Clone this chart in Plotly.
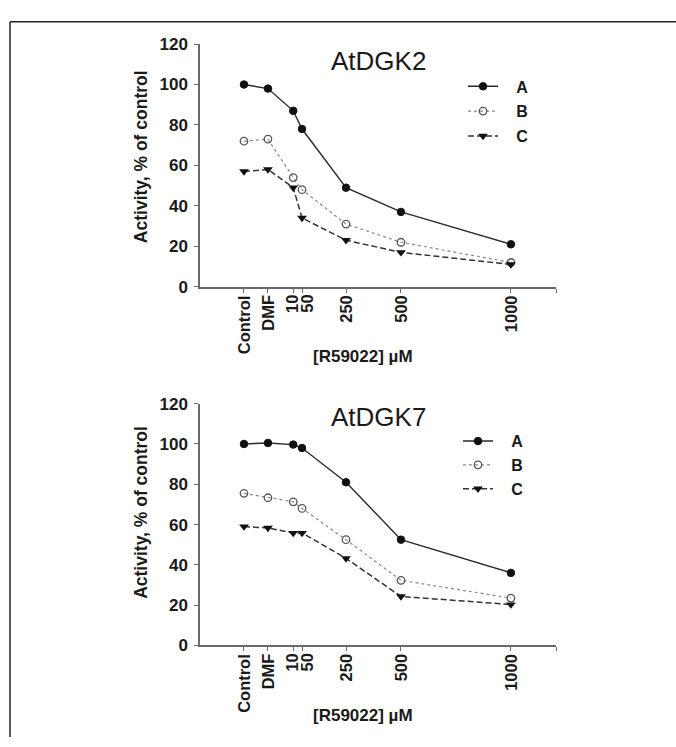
import plotly.graph_objects as go

W, H = 676, 747

# Concentration axis: the two controls sit left of the numeric doses
tick_labels = ["Control", "DMF", "10", "50", "250", "500", "1000"]
dose_pos = [-214, -105, 10, 50, 250, 500, 1000]
label_nudge = [0, 0, -1, 5, 0, 0, 0]  # keeps the crowded 10/50 labels apart
x_range = [-414, 1205]

series_names = ["A", "B", "C"]

# AtDGK2 activity, % of control
dgk2_a = [100, 98, 87, 78, 49, 37, 21]
dgk2_b = [72, 73, 54, 48, 31, 22, 12]
dgk2_c = [57, 58, 49, 34, 23, 17, 11]

# AtDGK7 activity, % of control
dgk7_a = [100, 100.5, 99.7, 98, 81, 52.5, 36]
dgk7_b = [75.5, 73.3, 71.3, 68, 52.5, 32.3, 23.5]
dgk7_c = [59, 58.3, 55.8, 55.8, 43.2, 24.3, 20.3]

y_ticks = [0, 20, 40, 60, 80, 100, 120]

FONT = "Liberation Sans, Arial, sans-serif"
INK = "#1a1a1a"
AXIS = "#6a6a6a"

styles = [
    dict(line=dict(color="#2a2a2a", width=1.4, dash="solid"),
         marker=dict(symbol="circle", size=7.5, color="#111111",
                     line=dict(color="#111111", width=1))),
    dict(line=dict(color="#8a8a8a", width=1.2, dash="dot"),
         marker=dict(symbol="circle-open", size=7.5, color="#555555",
                     line=dict(color="#555555", width=1.3))),
    dict(line=dict(color="#333333", width=1.5, dash="6px,3px"),
         marker=dict(symbol="triangle-down", size=8.5, color="#111111",
                     line=dict(color="#111111", width=0))),
]


def px_x(p):
    return p / W


def px_y(p):
    return 1 - p / H


fig = go.Figure()

panels = [
    dict(vals=[dgk2_a, dgk2_b, dgk2_c], xa="x", ya="y", legend="legend"),
    dict(vals=[dgk7_a, dgk7_b, dgk7_c], xa="x2", ya="y2", legend="legend2"),
]

for pi, panel in enumerate(panels):
    for si, (name, vals) in enumerate(zip(series_names, panel["vals"])):
        fig.add_trace(go.Scatter(
            x=dose_pos, y=vals, name="\u00a0\u00a0\u00a0" + name,
            mode="lines+markers",
            xaxis=panel["xa"], yaxis=panel["ya"],
            legend=panel["legend"],
            legendgroup=f"p{pi}s{si}",
            line=styles[si]["line"], marker=styles[si]["marker"],
            hoverinfo="skip",
        ))

axis_common = dict(
    showline=True, linecolor=AXIS, linewidth=1.5,
    ticks="outside", tickcolor=AXIS, ticklen=4, tickwidth=1.2,
    showgrid=False, zeroline=False, mirror=False,
    tickfont=dict(family=FONT, size=17, color=INK, weight="bold"),
)

xaxis_cfg = dict(
    axis_common, range=x_range,
    tickmode="array", tickvals=dose_pos + [x_range[1]],
    showticklabels=False,
)
yaxis_cfg = dict(
    axis_common, range=[0, 120], tickmode="array", tickvals=y_ticks,
    ticklabelstandoff=3,
)

x_dom = [px_x(200), px_x(556)]
fig.update_layout(
    width=W, height=H, autosize=False,
    margin=dict(l=0, r=0, t=0, b=0),
    paper_bgcolor="white", plot_bgcolor="white",
    showlegend=True,
    xaxis=dict(xaxis_cfg, domain=x_dom, anchor="y"),
    yaxis=dict(yaxis_cfg, domain=[px_y(285), px_y(36)], anchor="x"),
    xaxis2=dict(xaxis_cfg, domain=x_dom, anchor="y2"),
    yaxis2=dict(yaxis_cfg, domain=[px_y(653), px_y(405)], anchor="x2"),
    legend=dict(x=px_x(463), y=px_y(62), xanchor="left", yanchor="top",
                bgcolor="rgba(0,0,0,0)", tracegroupgap=1,
                font=dict(family=FONT, size=16, color=INK, weight="bold")),
    legend2=dict(x=px_x(458), y=px_y(426), xanchor="left", yanchor="top",
                 bgcolor="rgba(0,0,0,0)", tracegroupgap=0,
                 font=dict(family=FONT, size=16, color=INK, weight="bold")),
)

# Rotated dose labels under each x axis
for xa, ya in (("x", "y"), ("x2", "y2")):
    for lab, pos, dx in zip(tick_labels, dose_pos, label_nudge):
        fig.add_annotation(
            text=lab, x=pos, y=0, xref=xa, yref=ya,
            xanchor="center", yanchor="top", textangle=-90,
            xshift=dx, yshift=-7, showarrow=False, borderpad=0,
            font=dict(family=FONT, size=16.5, color=INK, weight="bold"),
        )

annotations = [
    dict(text="AtDGK2", x=px_x(378), y=px_y(53), size=26, weight="normal", angle=0),
    dict(text="AtDGK7", x=px_x(378), y=px_y(419), size=26, weight="normal", angle=0),
    dict(text="Activity, % of control", x=px_x(141), y=px_y(152), size=17.5,
         weight="bold", angle=-90),
    dict(text="Activity, % of control", x=px_x(141), y=px_y(517), size=17.5,
         weight="bold", angle=-90),
    dict(text="[R59022] µM", x=px_x(363), y=px_y(357), size=17, weight="bold", angle=0),
    dict(text="[R59022] µM", x=px_x(363), y=px_y(725), size=17, weight="bold", angle=0),
]
for a in annotations:
    fig.add_annotation(
        text=a["text"], x=a["x"], y=a["y"], xref="paper", yref="paper",
        xanchor="center", yanchor="middle", showarrow=False,
        textangle=a["angle"],
        font=dict(family=FONT, size=a["size"], color=INK, weight=a["weight"]),
    )

# Frame lines along the top and left edges of the figure
fig.add_shape(type="line", xref="paper", yref="paper",
              x0=px_x(10), x1=1.0, y0=px_y(13), y1=px_y(13),
              line=dict(color="#222222", width=1.5))
fig.add_shape(type="line", xref="paper", yref="paper",
              x0=px_x(10), x1=px_x(10), y0=px_y(13), y1=0.0,
              line=dict(color="#222222", width=1.5))

fig.write_html("out.html")
